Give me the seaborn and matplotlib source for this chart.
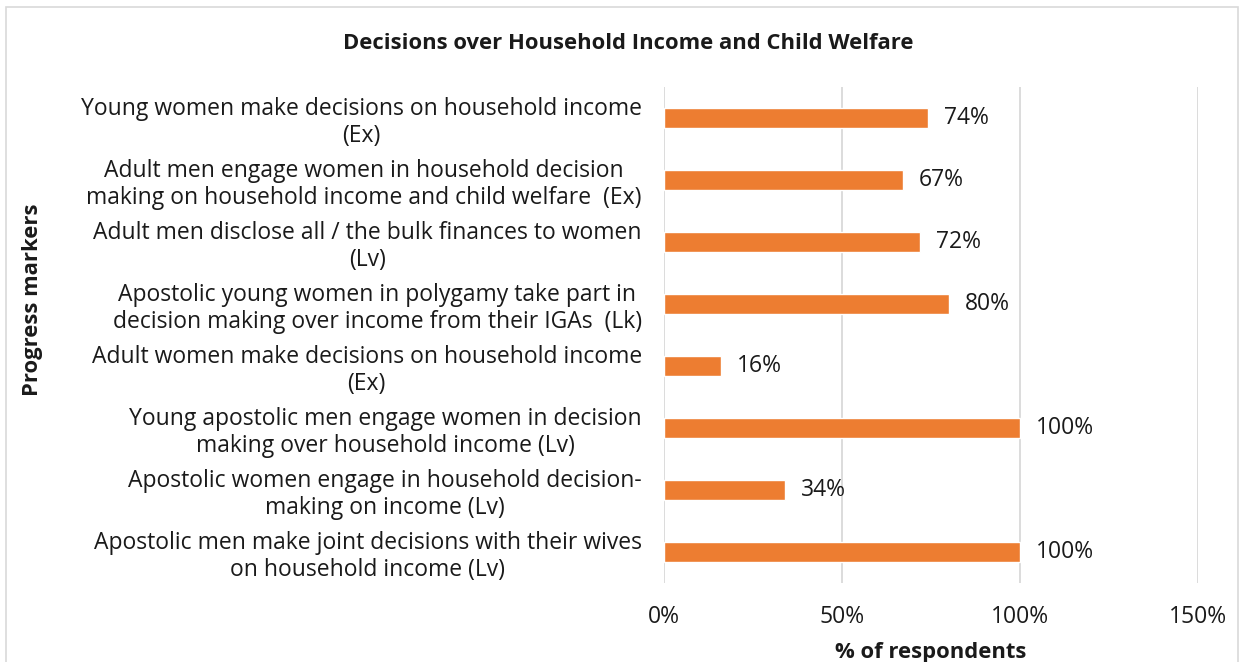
import matplotlib
matplotlib.use("Agg")
import matplotlib.pyplot as plt
import seaborn as sns
import pandas as pd
from matplotlib.patches import Rectangle

categories = [
    "Young women make decisions on household income\n(Ex)",
    "Adult men engage women in household decision\nmaking on household income and child welfare  (Ex)",
    "Adult men disclose all / the bulk finances to women\n(Lv)",
    "Apostolic young women in polygamy take part in\ndecision making over income from their IGAs  (Lk)",
    "Adult women make decisions on household income\n(Ex)",
    "Young apostolic men engage women in decision\nmaking over household income (Lv)",
    "Apostolic women engage in household decision-\nmaking on income (Lv)",
    "Apostolic men make joint decisions with their wives\non household income (Lv)",
]
values = [74, 67, 72, 80, 16, 100, 34, 100]
x_ticks = [0, 50, 100, 150]
x_tick_labels = ["0%", "50%", "100%", "150%"]

sns.set_theme(style="white")
plt.rcParams["font.family"] = ["Open Sans", "DejaVu Sans"]

df = pd.DataFrame({"cat": categories, "val": values})

fig = plt.figure(figsize=(12.44, 6.62), dpi=100)
ax = fig.add_axes([0.5338, 0.1193, 0.4293, 0.7493])

sns.barplot(data=df, y="cat", x="val", color="#ED7D31", width=0.33,
            saturation=1, ax=ax, zorder=3)

FS = 16.5
ax.set_xlim(0, 150)
ax.set_xticks(x_ticks)
ax.set_xticklabels(x_tick_labels, fontsize=FS, color="#1a1a1a")
ax.tick_params(axis="x", pad=16, length=0)
ax.tick_params(axis="y", pad=16, length=0)
for lab in ax.get_yticklabels():
    lab.set_fontsize(FS)
    lab.set_multialignment("center")
    lab.set_color("#1a1a1a")
    lab.set_linespacing(1.15)

ax.grid(axis="x", color="#d9d9d9", linewidth=1.3, zorder=0)
ax.grid(axis="y", visible=False)
for s in ax.spines.values():
    s.set_visible(False)

for i, v in enumerate(values):
    ax.text(v + 4.5, i, f"{v}%", va="center", ha="left", fontsize=FS,
            color="#1a1a1a")

ax.set_xlabel("% of respondents", fontsize=15.8, fontweight="bold",
              color="#1a1a1a", labelpad=9)
ax.set_ylabel("")
fig.text(0.026, 0.547, "Progress markers", rotation=90, fontsize=15.8,
         fontweight="bold", color="#1a1a1a", ha="center", va="center")
fig.text(0.505, 0.934, "Decisions over Household Income and Child Welfare",
         fontsize=15.8, fontweight="bold", color="#1a1a1a", ha="center",
         va="center")

fig.patches.append(Rectangle((6 / 1244, -0.05), 1232 / 1244, 1.05 - 7 / 662,
                             transform=fig.transFigure, fill=False,
                             edgecolor="#d9d9d9", linewidth=1.2))

fig.savefig("out.png", dpi=100)
